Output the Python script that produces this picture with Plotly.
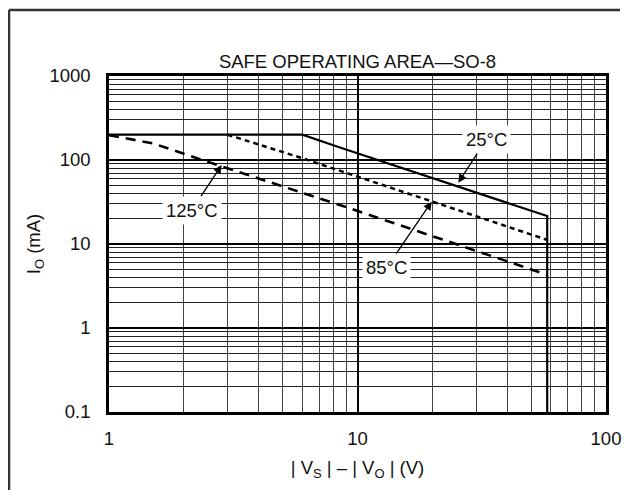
import plotly.graph_objects as go

# ---- data ----
v_25 = [1, 6, 8.5, 29, 58, 58]
i_25 = [200, 200, 141, 42, 21.5, 0.1]

v_85 = [3, 6, 20, 58]
i_85 = [200, 105, 32, 11.2]

v_125 = [1, 1.5, 2.8, 6, 9, 58]
i_125 = [197, 158, 85, 41, 27.5, 4.3]

x_major = [1, 10, 100]
x_major_text = ["1", "10", "100"]
y_major = [0.1, 1, 10, 100, 1000]
y_major_text = ["0.1", "1", "10", "100", "1000"]

FONT = "Liberation Sans, Arial, Helvetica, sans-serif"
FS = 18.5

# the page body adds an 8px margin; the figure is sized to fit the window
OFF = 8
W, H = 642 - OFF, 499 - 2 * OFF
L, T = 109 - OFF, 76 - OFF
R, B = W - (606 - OFF), H - (412 - OFF)
PW, PH = W - L - R, H - T - B


def minor_vals(decades):
    out = []
    for d in decades:
        for k in range(2, 10):
            out.append(k * d)
    return out


fig = go.Figure()

fig.add_trace(go.Scatter(x=v_125, y=i_125, mode="lines",
                         line=dict(color="black", width=2.6, dash="10px,7px"),
                         hoverinfo="skip", showlegend=False))
fig.add_trace(go.Scatter(x=v_85, y=i_85, mode="lines",
                         line=dict(color="black", width=2.5, dash="5px,4px"),
                         hoverinfo="skip", showlegend=False))
fig.add_trace(go.Scatter(x=v_25, y=i_25, mode="lines",
                         line=dict(color="black", width=2.2),
                         hoverinfo="skip", showlegend=False))

axis_common = dict(
    type="log",
    showline=True, linewidth=2.5, linecolor="black", mirror=True,
    showgrid=True, gridcolor="black", gridwidth=2,
    ticks="outside", tickcolor="rgba(0,0,0,0)",
    tickfont=dict(family=FONT, size=FS, color="#111"),
    zeroline=False,
)

fig.update_xaxes(
    **axis_common,
    range=[0, 2],
    tickmode="array", tickvals=x_major, ticktext=x_major_text, ticklen=8,
    minor=dict(tickmode="array", tickvals=minor_vals([1, 10]),
               showgrid=True, gridcolor="#444", gridwidth=1, ticks=""),
    title=dict(text="| V<sub>S</sub> | – | V<sub>O</sub> | (V)",
               font=dict(family=FONT, size=FS, color="#111"), standoff=14),
)
fig.update_yaxes(
    **axis_common,
    range=[-1, 3],
    tickmode="array", tickvals=y_major, ticktext=y_major_text, ticklen=12,
    minor=dict(tickmode="array", tickvals=minor_vals([0.1, 1, 10, 100]),
               showgrid=True, gridcolor="#222", gridwidth=1, ticks=""),
    title=dict(text="I<sub>O</sub> (mA)",
               font=dict(family=FONT, size=FS, color="#111"), standoff=4),
)

ann_font = dict(family=FONT, size=FS, color="#111")
labels = [
    # text, arrow tip (log10 V, log10 I), text offset in px
    ("125°C", 0.4535, 1.940, -30, 45),
    ("25°C", 1.4056, 1.730, 28, -43),
    ("85°C", 1.2986, 1.504, -45, 66),
]
for txt, lx, ly, ax, ay in labels:
    fig.add_annotation(x=lx, y=ly, xref="x", yref="y", text=txt,
                       showarrow=True, ax=ax, ay=ay, axref="pixel", ayref="pixel",
                       arrowhead=2, arrowsize=1.3, arrowwidth=1.3, arrowcolor="black",
                       bgcolor="white", borderpad=3, font=ann_font)

# outer frame: top and left edges
fx0, fx1 = (9 - 109) / PW, (620 - 109) / PW
fy0, fy1 = (412 - 490) / PH, (412 - 10) / PH
for x0, y0, x1, y1 in [(fx0, fy1, fx1, fy1), (fx0, fy0, fx0, fy1)]:
    fig.add_shape(type="line", xref="paper", yref="paper",
                  x0=x0, y0=y0, x1=x1, y1=y1,
                  line=dict(color="#333", width=2.5), layer="below")

fig.update_layout(
    width=W, height=H,
    margin=dict(l=L, r=R, t=T, b=B),
    paper_bgcolor="white", plot_bgcolor="white",
    title=dict(text="SAFE OPERATING AREA—SO-8", x=0.5, xref="paper",
               y=1 - (62 - OFF) / H, yanchor="middle", xanchor="center",
               font=dict(family=FONT, size=FS, color="#111")),
    showlegend=False,
)

fig.write_html("out.html")
